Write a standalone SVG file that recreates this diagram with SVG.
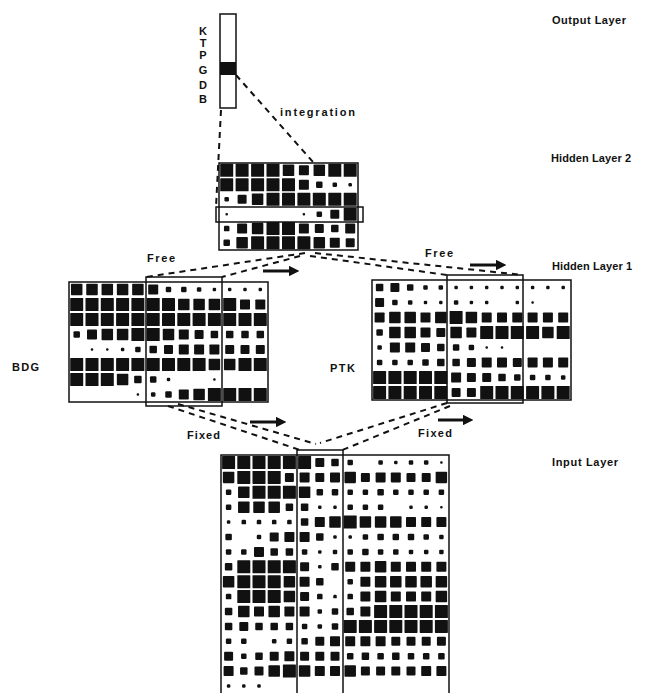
<svg xmlns="http://www.w3.org/2000/svg" width="651" height="693" viewBox="0 0 651 693">
<style>
text{font-family:"Liberation Sans",Arial,sans-serif;font-weight:bold;fill:#111}
.lbl{font-size:11px}
.frame{fill:none;stroke:#111;stroke-width:1.5}
.dash{fill:none;stroke:#111;stroke-width:2;stroke-dasharray:6 5}
.arr{fill:none;stroke:#111;stroke-width:3;marker-end:url(#ah)}
use{fill:#111}
</style>
<defs>
<marker id="ah" viewBox="0 0 10 10" refX="2" refY="5" markerWidth="3.5" markerHeight="3.5" orient="auto"><path d="M0,0 L10,5 L0,10 z" fill="#111"/></marker>
<rect id="a" x="-1.25" y="-1.25" width="2.5" height="2.5" rx="1"/>
<rect id="b" x="-1.75" y="-1.75" width="3.5" height="3.5" rx="1.2"/>
<rect id="c" x="-2.25" y="-2.25" width="4.5" height="4.5" rx="1.2"/>
<rect id="d" x="-2.75" y="-2.75" width="5.5" height="5.5" rx="1.2"/>
<rect id="e" x="-3.25" y="-3.25" width="6.5" height="6.5" rx="1.2"/>
<rect id="f" x="-3.75" y="-3.75" width="7.5" height="7.5" rx="1"/>
<rect id="g" x="-4.5" y="-4.5" width="9" height="9" rx="1"/>
<rect id="h" x="-5" y="-5" width="10" height="10" rx="0.8"/>
<rect id="i" x="-5.75" y="-5.75" width="11.5" height="11.5" rx="0.8"/>
<rect id="j" x="-6.5" y="-6.5" width="13" height="13" rx="0.6"/>
</defs>
<rect width="651" height="693" fill="#fff"/>

<g id="connectors">
<line class="dash" x1="221" y1="110" x2="216" y2="207"/>
<line class="dash" x1="236" y1="75" x2="313" y2="162"/>
<line class="dash" x1="305" y1="253" x2="146" y2="277"/>
<line class="dash" x1="300" y1="256" x2="222" y2="277"/>
<line class="dash" x1="315" y1="253" x2="523" y2="275"/>
<line class="dash" x1="310" y1="256" x2="447" y2="275"/>
<line class="dash" x1="168" y1="406" x2="300" y2="450"/>
<line class="dash" x1="178" y1="404" x2="316" y2="444"/>
<line class="dash" x1="447" y1="403" x2="320" y2="443"/>
<line class="dash" x1="450" y1="406" x2="340" y2="451"/>
<line class="arr" x1="263" y1="271" x2="291" y2="271"/>
<line class="arr" x1="470" y1="265" x2="498" y2="265"/>
<line class="arr" x1="250" y1="422" x2="278" y2="422"/>
<line class="arr" x1="438" y1="420" x2="465" y2="420"/>
</g>

<g id="output-layer">
<rect class="frame" x="220" y="14" width="16" height="94"/>
<rect x="220" y="62" width="16" height="13" fill="#111"/>
<g class="lbl" text-anchor="middle" font-size="10">
<text x="203" y="35">K</text>
<text x="203" y="47">T</text>
<text x="203" y="59">P</text>
<text x="203" y="74">G</text>
<text x="203" y="89">D</text>
<text x="203" y="103">B</text>
</g>
<text class="lbl" x="280" y="116" textLength="75" lengthAdjust="spacing">integration</text>
<text class="lbl" x="552" y="24" textLength="74" lengthAdjust="spacing">Output Layer</text>
</g>

<g id="hidden-layer-2">
<rect class="frame" x="219" y="163" width="139" height="87"/>
<g transform="translate(0,170.3)"><use href="#j" x="226.7"/><use href="#j" x="242.1"/><use href="#j" x="257.6"/><use href="#j" x="273"/><use href="#i" x="288.5"/><use href="#h" x="303.9"/><use href="#i" x="319.3"/><use href="#j" x="334.8"/><use href="#j" x="350.2"/></g>
<g transform="translate(0,184.8)"><use href="#j" x="226.7"/><use href="#j" x="242.1"/><use href="#j" x="257.6"/><use href="#j" x="273"/><use href="#j" x="288.5"/><use href="#h" x="303.9"/><use href="#e" x="319.3"/><use href="#c" x="334.8"/><use href="#b" x="350.2"/></g>
<g transform="translate(0,199.3)"><use href="#c" x="226.7"/><use href="#g" x="242.1"/><use href="#i" x="257.6"/><use href="#j" x="273"/><use href="#j" x="288.5"/><use href="#j" x="303.9"/><use href="#j" x="319.3"/><use href="#j" x="334.8"/><use href="#j" x="350.2"/></g>
<g transform="translate(0,214.3)"><use href="#a" x="226.7"/><use href="#a" x="303.9"/><use href="#d" x="319.3"/><use href="#g" x="334.8"/><use href="#j" x="350.2"/></g>
<g transform="translate(0,228.6)"><use href="#d" x="226.7"/><use href="#h" x="242.1"/><use href="#i" x="257.6"/><use href="#j" x="273"/><use href="#j" x="288.5"/><use href="#h" x="303.9"/><use href="#g" x="319.3"/><use href="#f" x="334.8"/><use href="#h" x="350.2"/></g>
<g transform="translate(0,242.8)"><use href="#e" x="226.7"/><use href="#i" x="242.1"/><use href="#j" x="257.6"/><use href="#j" x="273"/><use href="#j" x="288.5"/><use href="#j" x="303.9"/><use href="#i" x="319.3"/><use href="#h" x="334.8"/><use href="#g" x="350.2"/></g>
<rect class="frame" x="216" y="207" width="147" height="15"/>
<text class="lbl" x="551" y="162" textLength="80" lengthAdjust="spacing">Hidden Layer 2</text>
</g>

<g id="hidden-layer-1-bdg">
<rect class="frame" x="69" y="282" width="199" height="120"/>
<g transform="translate(0,289.5)"><use href="#i" x="76.7"/><use href="#i" x="92"/><use href="#i" x="107.3"/><use href="#i" x="122.6"/><use href="#i" x="137.9"/><use href="#h" x="153.2"/><use href="#d" x="168.5"/><use href="#d" x="183.8"/><use href="#c" x="199.1"/><use href="#b" x="214.4"/><use href="#b" x="229.7"/><use href="#b" x="245"/><use href="#b" x="260.3"/></g>
<g transform="translate(0,304.5)"><use href="#j" x="76.7"/><use href="#j" x="92"/><use href="#j" x="107.3"/><use href="#j" x="122.6"/><use href="#j" x="137.9"/><use href="#j" x="153.2"/><use href="#j" x="168.5"/><use href="#i" x="183.8"/><use href="#i" x="199.1"/><use href="#i" x="214.4"/><use href="#j" x="229.7"/><use href="#h" x="245"/><use href="#h" x="260.3"/></g>
<g transform="translate(0,319.5)"><use href="#j" x="76.7"/><use href="#j" x="92"/><use href="#j" x="107.3"/><use href="#j" x="122.6"/><use href="#j" x="137.9"/><use href="#j" x="153.2"/><use href="#j" x="168.5"/><use href="#j" x="183.8"/><use href="#j" x="199.1"/><use href="#j" x="214.4"/><use href="#j" x="229.7"/><use href="#j" x="245"/><use href="#j" x="260.3"/></g>
<g transform="translate(0,334.5)"><use href="#e" x="76.7"/><use href="#h" x="92"/><use href="#i" x="107.3"/><use href="#i" x="122.6"/><use href="#j" x="137.9"/><use href="#j" x="153.2"/><use href="#i" x="168.5"/><use href="#h" x="183.8"/><use href="#g" x="199.1"/><use href="#f" x="214.4"/><use href="#f" x="229.7"/><use href="#f" x="245"/><use href="#f" x="260.3"/></g>
<g transform="translate(0,349.5)"><use href="#a" x="92"/><use href="#a" x="107.3"/><use href="#b" x="122.6"/><use href="#d" x="137.9"/><use href="#f" x="153.2"/><use href="#g" x="168.5"/><use href="#h" x="183.8"/><use href="#h" x="199.1"/><use href="#h" x="214.4"/><use href="#g" x="229.7"/><use href="#g" x="245"/><use href="#g" x="260.3"/></g>
<g transform="translate(0,364.5)"><use href="#j" x="76.7"/><use href="#j" x="92"/><use href="#j" x="107.3"/><use href="#j" x="122.6"/><use href="#j" x="137.9"/><use href="#j" x="153.2"/><use href="#j" x="168.5"/><use href="#j" x="183.8"/><use href="#j" x="199.1"/><use href="#i" x="214.4"/><use href="#i" x="229.7"/><use href="#j" x="245"/><use href="#j" x="260.3"/></g>
<g transform="translate(0,379.5)"><use href="#j" x="76.7"/><use href="#j" x="92"/><use href="#j" x="107.3"/><use href="#i" x="122.6"/><use href="#f" x="137.9"/><use href="#e" x="153.2"/><use href="#b" x="168.5"/><use href="#a" x="214.4"/></g>
<g transform="translate(0,394.5)"><use href="#a" x="137.9"/><use href="#c" x="153.2"/><use href="#e" x="168.5"/><use href="#h" x="183.8"/><use href="#i" x="199.1"/><use href="#j" x="214.4"/><use href="#j" x="229.7"/><use href="#j" x="245"/><use href="#j" x="260.3"/></g>
<rect class="frame" x="146" y="277" width="76" height="129"/>
<text class="lbl" x="12" y="371" textLength="27" lengthAdjust="spacing">BDG</text>
<text class="lbl" x="147" y="262" textLength="28" lengthAdjust="spacing">Free</text>
<text class="lbl" x="187" y="439" textLength="33" lengthAdjust="spacing">Fixed</text>
</g>

<g id="hidden-layer-1-ptk">
<rect class="frame" x="372" y="280" width="199" height="120"/>
<g transform="translate(0,287.5)"><use href="#f" x="379.6"/><use href="#g" x="394.9"/><use href="#e" x="410.2"/><use href="#c" x="425.5"/><use href="#c" x="440.8"/><use href="#b" x="456.1"/><use href="#b" x="471.4"/><use href="#b" x="486.7"/><use href="#b" x="502"/><use href="#b" x="517.3"/><use href="#b" x="532.6"/><use href="#b" x="547.9"/><use href="#b" x="563.2"/></g>
<g transform="translate(0,302.5)"><use href="#g" x="379.6"/><use href="#d" x="394.9"/><use href="#c" x="410.2"/><use href="#b" x="425.5"/><use href="#b" x="440.8"/><use href="#c" x="456.1"/><use href="#b" x="471.4"/><use href="#b" x="486.7"/><use href="#b" x="517.3"/><use href="#a" x="532.6"/></g>
<g transform="translate(0,317.5)"><use href="#h" x="379.6"/><use href="#i" x="394.9"/><use href="#i" x="410.2"/><use href="#h" x="425.5"/><use href="#i" x="440.8"/><use href="#j" x="456.1"/><use href="#i" x="471.4"/><use href="#h" x="486.7"/><use href="#h" x="502"/><use href="#h" x="517.3"/><use href="#h" x="532.6"/><use href="#h" x="547.9"/><use href="#h" x="563.2"/></g>
<g transform="translate(0,332.5)"><use href="#e" x="379.6"/><use href="#i" x="394.9"/><use href="#i" x="410.2"/><use href="#h" x="425.5"/><use href="#g" x="440.8"/><use href="#i" x="456.1"/><use href="#h" x="471.4"/><use href="#j" x="486.7"/><use href="#j" x="502"/><use href="#j" x="517.3"/><use href="#j" x="532.6"/><use href="#i" x="547.9"/><use href="#j" x="563.2"/></g>
<g transform="translate(0,347.5)"><use href="#c" x="379.6"/><use href="#h" x="394.9"/><use href="#h" x="410.2"/><use href="#g" x="425.5"/><use href="#f" x="440.8"/><use href="#e" x="456.1"/><use href="#d" x="471.4"/><use href="#a" x="486.7"/><use href="#a" x="502"/></g>
<g transform="translate(0,362.5)"><use href="#d" x="379.6"/><use href="#d" x="394.9"/><use href="#d" x="410.2"/><use href="#e" x="425.5"/><use href="#f" x="440.8"/><use href="#f" x="456.1"/><use href="#g" x="471.4"/><use href="#h" x="486.7"/><use href="#h" x="502"/><use href="#g" x="517.3"/><use href="#h" x="532.6"/><use href="#h" x="547.9"/><use href="#h" x="563.2"/></g>
<g transform="translate(0,377.5)"><use href="#j" x="379.6"/><use href="#j" x="394.9"/><use href="#j" x="410.2"/><use href="#j" x="425.5"/><use href="#j" x="440.8"/><use href="#h" x="456.1"/><use href="#g" x="471.4"/><use href="#g" x="486.7"/><use href="#f" x="502"/><use href="#e" x="517.3"/><use href="#d" x="532.6"/><use href="#d" x="547.9"/><use href="#c" x="563.2"/></g>
<g transform="translate(0,392.5)"><use href="#j" x="379.6"/><use href="#j" x="394.9"/><use href="#j" x="410.2"/><use href="#j" x="425.5"/><use href="#j" x="440.8"/><use href="#g" x="456.1"/><use href="#g" x="471.4"/><use href="#j" x="486.7"/><use href="#j" x="502"/><use href="#j" x="517.3"/><use href="#j" x="532.6"/><use href="#j" x="547.9"/><use href="#j" x="563.2"/></g>
<rect class="frame" x="447" y="275" width="76" height="128"/>
<text class="lbl" x="330" y="372" textLength="25" lengthAdjust="spacing">PTK</text>
<text class="lbl" x="425" y="257" textLength="28" lengthAdjust="spacing">Free</text>
<text class="lbl" x="418" y="437" textLength="34" lengthAdjust="spacing">Fixed</text>
<text class="lbl" x="552" y="270" textLength="80" lengthAdjust="spacing">Hidden Layer 1</text>
</g>

<g id="input-layer">
<rect class="frame" x="221" y="455" width="228" height="245"/>
<g transform="translate(0,462.5)"><use href="#j" x="228.6"/><use href="#j" x="243.8"/><use href="#j" x="259"/><use href="#j" x="274.2"/><use href="#j" x="289.4"/><use href="#j" x="304.6"/><use href="#g" x="319.8"/><use href="#f" x="335"/><use href="#d" x="350.2"/><use href="#c" x="380.6"/><use href="#b" x="395.8"/><use href="#c" x="411"/><use href="#c" x="426.2"/><use href="#a" x="441.4"/></g>
<g transform="translate(0,477.4)"><use href="#i" x="228.6"/><use href="#j" x="243.8"/><use href="#j" x="259"/><use href="#j" x="274.2"/><use href="#g" x="289.4"/><use href="#h" x="304.6"/><use href="#g" x="319.8"/><use href="#h" x="335"/><use href="#i" x="350.2"/><use href="#g" x="365.4"/><use href="#h" x="380.6"/><use href="#h" x="395.8"/><use href="#g" x="411"/><use href="#g" x="426.2"/><use href="#i" x="441.4"/></g>
<g transform="translate(0,492.3)"><use href="#d" x="228.6"/><use href="#i" x="243.8"/><use href="#j" x="259"/><use href="#j" x="274.2"/><use href="#j" x="289.4"/><use href="#i" x="304.6"/><use href="#e" x="319.8"/><use href="#e" x="335"/><use href="#d" x="350.2"/><use href="#d" x="365.4"/><use href="#e" x="380.6"/><use href="#d" x="395.8"/><use href="#d" x="411"/><use href="#d" x="426.2"/><use href="#d" x="441.4"/></g>
<g transform="translate(0,507.2)"><use href="#d" x="228.6"/><use href="#i" x="243.8"/><use href="#i" x="259"/><use href="#i" x="274.2"/><use href="#f" x="289.4"/><use href="#f" x="304.6"/><use href="#b" x="319.8"/><use href="#b" x="335"/><use href="#d" x="350.2"/><use href="#d" x="365.4"/><use href="#d" x="380.6"/><use href="#b" x="411"/><use href="#b" x="426.2"/><use href="#a" x="441.4"/></g>
<g transform="translate(0,522.1)"><use href="#b" x="228.6"/><use href="#c" x="243.8"/><use href="#c" x="259"/><use href="#c" x="274.2"/><use href="#c" x="289.4"/><use href="#f" x="304.6"/><use href="#h" x="319.8"/><use href="#i" x="335"/><use href="#j" x="350.2"/><use href="#i" x="365.4"/><use href="#i" x="380.6"/><use href="#i" x="395.8"/><use href="#h" x="411"/><use href="#h" x="426.2"/><use href="#h" x="441.4"/></g>
<g transform="translate(0,537)"><use href="#e" x="228.6"/><use href="#c" x="259"/><use href="#g" x="274.2"/><use href="#h" x="289.4"/><use href="#h" x="304.6"/><use href="#f" x="319.8"/><use href="#b" x="335"/><use href="#b" x="350.2"/><use href="#d" x="365.4"/><use href="#e" x="380.6"/><use href="#e" x="395.8"/><use href="#e" x="411"/><use href="#d" x="426.2"/><use href="#c" x="441.4"/></g>
<g transform="translate(0,551.9)"><use href="#d" x="228.6"/><use href="#d" x="243.8"/><use href="#h" x="259"/><use href="#f" x="274.2"/><use href="#f" x="289.4"/><use href="#d" x="304.6"/><use href="#b" x="319.8"/><use href="#c" x="335"/><use href="#d" x="350.2"/><use href="#e" x="365.4"/><use href="#d" x="380.6"/><use href="#d" x="395.8"/><use href="#c" x="411"/><use href="#c" x="426.2"/><use href="#c" x="441.4"/></g>
<g transform="translate(0,566.8)"><use href="#f" x="228.6"/><use href="#j" x="243.8"/><use href="#j" x="259"/><use href="#j" x="274.2"/><use href="#j" x="289.4"/><use href="#g" x="304.6"/><use href="#b" x="319.8"/><use href="#f" x="335"/><use href="#h" x="350.2"/><use href="#h" x="365.4"/><use href="#i" x="380.6"/><use href="#h" x="395.8"/><use href="#h" x="411"/><use href="#h" x="426.2"/><use href="#h" x="441.4"/></g>
<g transform="translate(0,581.7)"><use href="#i" x="228.6"/><use href="#j" x="243.8"/><use href="#j" x="259"/><use href="#j" x="274.2"/><use href="#i" x="289.4"/><use href="#h" x="304.6"/><use href="#f" x="319.8"/><use href="#d" x="350.2"/><use href="#h" x="365.4"/><use href="#i" x="380.6"/><use href="#i" x="395.8"/><use href="#i" x="411"/><use href="#i" x="426.2"/><use href="#i" x="441.4"/></g>
<g transform="translate(0,596.6)"><use href="#d" x="228.6"/><use href="#j" x="243.8"/><use href="#j" x="259"/><use href="#j" x="274.2"/><use href="#i" x="289.4"/><use href="#g" x="304.6"/><use href="#d" x="319.8"/><use href="#b" x="335"/><use href="#d" x="350.2"/><use href="#h" x="365.4"/><use href="#i" x="380.6"/><use href="#h" x="395.8"/><use href="#h" x="411"/><use href="#h" x="426.2"/><use href="#i" x="441.4"/></g>
<g transform="translate(0,611.5)"><use href="#f" x="228.6"/><use href="#i" x="243.8"/><use href="#h" x="259"/><use href="#i" x="274.2"/><use href="#h" x="289.4"/><use href="#h" x="304.6"/><use href="#c" x="319.8"/><use href="#e" x="335"/><use href="#f" x="350.2"/><use href="#h" x="365.4"/><use href="#j" x="380.6"/><use href="#j" x="395.8"/><use href="#j" x="411"/><use href="#j" x="426.2"/><use href="#j" x="441.4"/></g>
<g transform="translate(0,626.4)"><use href="#f" x="228.6"/><use href="#g" x="243.8"/><use href="#f" x="259"/><use href="#f" x="274.2"/><use href="#f" x="289.4"/><use href="#d" x="304.6"/><use href="#c" x="319.8"/><use href="#e" x="335"/><use href="#j" x="350.2"/><use href="#j" x="365.4"/><use href="#j" x="380.6"/><use href="#j" x="395.8"/><use href="#j" x="411"/><use href="#j" x="426.2"/><use href="#j" x="441.4"/></g>
<g transform="translate(0,641.3)"><use href="#d" x="228.6"/><use href="#d" x="243.8"/><use href="#c" x="274.2"/><use href="#d" x="289.4"/><use href="#e" x="304.6"/><use href="#g" x="319.8"/><use href="#h" x="335"/><use href="#h" x="350.2"/><use href="#h" x="365.4"/><use href="#h" x="380.6"/><use href="#g" x="395.8"/><use href="#g" x="411"/><use href="#g" x="426.2"/><use href="#g" x="441.4"/></g>
<g transform="translate(0,656.2)"><use href="#g" x="228.6"/><use href="#d" x="243.8"/><use href="#f" x="259"/><use href="#g" x="274.2"/><use href="#h" x="289.4"/><use href="#g" x="304.6"/><use href="#g" x="319.8"/><use href="#g" x="335"/><use href="#e" x="350.2"/><use href="#f" x="365.4"/><use href="#e" x="380.6"/><use href="#f" x="395.8"/><use href="#e" x="411"/><use href="#e" x="426.2"/><use href="#e" x="441.4"/></g>
<g transform="translate(0,671.1)"><use href="#h" x="228.6"/><use href="#f" x="243.8"/><use href="#g" x="259"/><use href="#i" x="274.2"/><use href="#j" x="289.4"/><use href="#i" x="304.6"/><use href="#h" x="319.8"/><use href="#h" x="335"/><use href="#i" x="350.2"/><use href="#g" x="365.4"/><use href="#g" x="380.6"/><use href="#g" x="395.8"/><use href="#g" x="411"/><use href="#h" x="426.2"/><use href="#h" x="441.4"/></g>
<g transform="translate(0,686)"><use href="#b" x="228.6"/><use href="#b" x="243.8"/><use href="#b" x="259"/></g>
<rect class="frame" x="297" y="450" width="46" height="250"/>
<text class="lbl" x="552" y="466" textLength="66" lengthAdjust="spacing">Input Layer</text>
</g>
</svg>
